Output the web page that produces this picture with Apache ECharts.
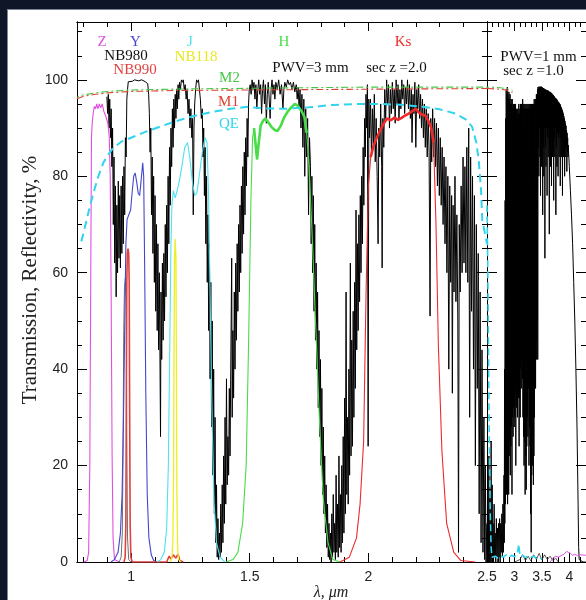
<!DOCTYPE html>
<html><head><meta charset="utf-8">
<script src="https://cdn.jsdelivr.net/npm/echarts@6/dist/echarts.min.js"></script>
<style>
html,body{margin:0;padding:0;background:#0f1627;width:586px;height:600px;overflow:hidden}
#frame{position:absolute;left:7px;top:9px;width:579px;height:591px;background:#fff;border-left:1px solid #7d8696;border-top:1px solid #7d8696;}
#chart{position:absolute;left:0;top:0;width:586px;height:600px}
</style></head><body><div id="frame"></div><div id="chart"></div>
<script>
// ---------- tick labels / tick positions ----------
const yMajor = [0,20,40,60,80,100];
const yMinor = [5,10,15,25,30,35,45,50,55,65,70,75,85,90,95,105,110];
const leftXLabels = [1,1.5,2,2.5];
const leftXMajor = [1,1.5,2,2.5];
const leftXMinor = [0.8,0.9,1.1,1.2,1.3,1.4,1.6,1.7,1.8,1.9,2.1,2.2,2.3,2.4];
const rightXLabels = [3,3.5,4];
const rightXMajor = [2.5,3,3.5,4];
const rightXMinor = [2.6,2.7,2.8,2.9,3.1,3.2,3.3,3.4,3.6,3.7,3.8,3.9,4.1,4.2,4.3];

// ---------- atmospheric transmission, PWV=3mm, sec z=2 (left panel) ----------
const atmLeft = [
[0.898,96.5],[0.901,93],[0.904,97],[0.907,90],[0.910,96],[0.913,88],[0.916,94],[0.919,82],[0.922,90],[0.925,70],[0.928,84],[0.931,62],[0.934,78],[0.937,55],[0.940,74],[0.943,60],[0.946,79],[0.949,63],[0.952,76],[0.955,61],[0.958,78],[0.961,64],[0.964,80],[0.967,66],[0.970,82],[0.973,72],[0.976,88],[0.979,84],[0.982,96],[0.985,98],[0.988,99.6],
[0.995,100],[1.005,99.7],[1.015,100],[1.030,99.8],[1.045,100],[1.060,99.6],[1.070,99.2],[1.074,97],
[1.077,93],[1.080,85],[1.083,90],[1.086,72],[1.089,84],[1.092,64],[1.095,80],[1.098,58],[1.101,76],[1.104,52],[1.107,70],[1.110,48],[1.113,66],[1.116,44],[1.119,60],[1.122,40],[1.124,26],[1.126,56],[1.129,42],[1.132,62],[1.135,46],[1.138,64],[1.141,50],[1.144,70],[1.147,55],[1.150,74],[1.153,60],[1.156,80],[1.159,66],[1.162,86],[1.165,74],[1.168,90],[1.171,82],[1.174,94],[1.177,86],[1.180,96],[1.183,90],
[1.186,97],[1.189,92],[1.192,98],[1.195,94],[1.198,99],[1.201,96],[1.204,99.5],[1.208,98],[1.212,100],[1.216,99.5],[1.220,100],[1.224,98],[1.228,99],[1.232,96],[1.236,98],[1.240,93],[1.244,96],[1.248,90],[1.252,94],[1.256,88],[1.259,92],[1.262,72],[1.265,90],[1.268,95],[1.272,98],[1.276,100],[1.280,99.5],[1.284,100],[1.288,98],[1.292,96],[1.296,92],
[1.300,94],[1.303,84],[1.306,90],[1.309,76],[1.312,86],[1.315,66],[1.318,80],[1.321,58],[1.324,72],[1.327,48],[1.330,66],[1.333,38],[1.336,58],[1.339,28],[1.342,50],[1.345,18],[1.348,40],[1.351,10],[1.354,30],[1.357,4],[1.360,16],[1.363,1],[1.366,9],[1.369,0.5],[1.372,6],[1.375,1],[1.378,12],[1.381,2],[1.384,16],[1.387,4],[1.390,22],[1.393,8],[1.396,30],[1.399,12],[1.402,38],[1.405,16],[1.408,26],[1.411,18],[1.414,36],[1.417,22],[1.420,40],[1.424,63],[1.426,30],[1.429,48],[1.432,34],[1.435,56],[1.438,40],[1.441,62],[1.444,46],[1.447,66],[1.450,52],[1.453,70],[1.456,56],[1.459,74],[1.462,60],[1.465,78],[1.468,64],[1.471,82],[1.474,68],[1.477,85],[1.480,72],[1.483,88],[1.486,78],[1.489,92],[1.492,84],[1.495,95],[1.498,98],
[1.502,99],[1.506,97],[1.510,100],[1.514,98],[1.518,99.5],[1.522,96],[1.526,99],[1.530,94],[1.534,98],[1.538,100],[1.542,97],[1.546,99],[1.550,93],[1.554,98],[1.558,100],[1.562,95],[1.566,99],[1.570,91],[1.574,97],[1.578,99.5],[1.582,96],[1.586,92],[1.590,98],[1.594,100],[1.598,97],[1.602,99],[1.606,96],[1.610,99.5],[1.616,98],[1.622,100],[1.628,97],[1.634,99],[1.640,94],[1.644,98],[1.648,99.5],[1.654,98.5],[1.660,100],[1.666,99],[1.672,99.5],[1.678,98],[1.684,99.5],[1.690,97.5],[1.696,99],[1.700,96],[1.704,98.5],[1.708,94],[1.712,98],[1.716,90],[1.720,97],[1.724,86],[1.728,96],[1.732,80],[1.736,94],[1.740,84],[1.744,92],[1.748,72],[1.752,88],
[1.756,82],[1.759,66],[1.762,80],[1.765,60],[1.768,76],[1.771,52],[1.774,70],[1.777,46],[1.780,62],[1.783,40],[1.786,56],[1.789,32],[1.792,48],[1.795,26],[1.798,42],[1.801,20],[1.804,36],[1.807,14],[1.810,28],[1.813,10],[1.816,22],[1.819,6],[1.822,16],[1.825,3],[1.828,12],[1.831,1],[1.834,8],[1.837,0.5],[1.840,6],[1.843,0],[1.846,10],[1.849,1],[1.852,14],[1.855,2],[1.858,8],[1.861,0.5],[1.864,18],[1.867,2],[1.870,12],[1.873,1],[1.876,22],[1.879,3],[1.882,14],[1.885,2],[1.888,20],[1.891,4],[1.894,26],[1.897,6],[1.900,34],[1.903,10],[1.906,56],[1.909,14],[1.912,30],[1.915,12],[1.918,40],[1.921,18],[1.924,62],[1.927,22],[1.930,46],[1.933,24],[1.936,52],[1.939,30],[1.942,58],[1.945,36],[1.948,73],[1.951,44],[1.954,66],[1.957,48],[1.960,72],[1.963,54],[1.966,76],[1.969,60],[1.972,80],[1.975,66],[1.978,86],[1.981,74],[1.984,92],[1.987,84],[1.990,97],[1.993,90],[1.996,99],[1.999,24],[2.002,96],
[2.005,88],[2.009,96],[2.013,84],[2.017,94],[2.021,86],[2.025,97],[2.029,83],[2.033,92],[2.037,80],[2.041,66],[2.044,90],[2.048,84],[2.052,95],[2.056,82],[2.058,61],[2.061,92],[2.065,86],[2.069,98],[2.073,92],[2.077,100],[2.081,95],[2.085,99],[2.089,90],[2.093,98],[2.097,93],[2.101,99.5],[2.105,94],[2.109,98],[2.113,91],[2.117,100],[2.121,95],[2.125,99],[2.129,92],[2.133,98],[2.137,94],[2.141,100],[2.145,96],[2.149,99],[2.153,93],[2.157,98.5],[2.161,95],[2.165,100],[2.169,94],[2.173,99],[2.177,92],[2.181,98],[2.184,87],[2.188,97],[2.192,93],[2.196,99.5],[2.200,86],[2.204,98],[2.208,94],[2.212,99],[2.216,92],[2.220,97],[2.224,90],[2.228,96],[2.232,88],[2.236,95],[2.240,86],[2.244,94],[2.248,84],[2.252,93],[2.256,85],[2.260,51],[2.263,92],[2.267,83],[2.271,94],[2.275,84],[2.279,92],[2.283,82],[2.287,91],[2.291,78],[2.295,90],[2.299,76],
[2.303,88],[2.307,74],[2.311,86],[2.315,70],[2.319,84],[2.323,66],[2.327,82],[2.331,60],[2.335,80],[2.339,40],[2.343,78],[2.347,58],[2.351,76],[2.354,35],[2.357,74],[2.361,56],[2.365,80],[2.369,54],[2.373,72],[2.377,50],[2.380,2],[2.383,70],[2.387,56],[2.391,78],[2.395,60],[2.399,84],[2.403,62],[2.407,82],[2.411,60],[2.415,86],[2.419,58],[2.423,90],[2.427,30],[2.431,84],[2.435,52],[2.439,80],[2.443,40],[2.447,76],[2.451,20],[2.455,70],[2.459,36],[2.463,64],[2.467,10],[2.471,56],[2.475,4],[2.479,44],[2.483,2],[2.487,30],[2.490,0.5],[2.493,20],[2.496,0],[2.499,8]
];

// ---------- atmospheric transmission, PWV=1mm, sec z=1 (right panel) ----------
const atmRight = [
[2.500,0],[2.505,4],[2.510,0],[2.515,18],[2.520,1],[2.525,10],[2.530,0],[2.535,22],[2.540,2],[2.545,8],[2.550,0],[2.555,14],[2.560,1],[2.565,6],[2.570,0],[2.575,25],[2.580,2],[2.585,10],[2.590,0],[2.595,16],[2.600,1],[2.610,8],[2.620,0],[2.630,12],[2.640,1],[2.650,6],[2.660,0],[2.670,9],[2.680,1],[2.690,7],[2.700,0],[2.710,8],[2.720,1],[2.730,9],[2.740,0],[2.750,8],[2.760,2],[2.770,10],[2.780,1],[2.790,12],[2.800,2],[2.810,18],[2.815,4],[2.820,40],[2.825,8],[2.830,75],[2.835,12],[2.840,92],[2.845,16],
[2.850,98],[2.855,14],[2.860,97],[2.865,18],[2.870,98.5],[2.875,12],[2.880,97],[2.885,20],[2.890,96],[2.895,14],[2.900,97.5],[2.905,22],[2.910,96],[2.915,25],[2.920,97],[2.925,18],[2.930,95],[2.935,24],[2.940,96],[2.945,28],[2.950,95],[2.955,14],[2.960,96],[2.965,30],[2.970,94],[2.975,26],[2.980,95],[2.985,32],[2.990,93],[2.995,28],[3.000,95],[3.005,30],[3.010,94],[3.015,35],[3.020,95],[3.025,20],[3.030,93],[3.035,32],[3.040,94],[3.045,36],[3.050,92],[3.055,30],[3.060,94],[3.065,38],[3.070,93],[3.075,34],[3.080,95],[3.085,24],[3.090,93],[3.095,34],[3.100,94],[3.105,30],[3.110,95],[3.115,40],[3.120,94],[3.125,36],[3.130,95],[3.135,42],[3.140,94],[3.145,38],[3.150,96],[3.155,30],[3.160,94],[3.165,26],[3.170,95],[3.175,20],[3.180,94],[3.185,25],[3.190,95],[3.195,14],[3.200,94],[3.205,22],[3.210,95],[3.215,15],[3.220,94],[3.225,24],[3.230,95],[3.235,30],[3.240,94],[3.245,26],[3.250,95],[3.255,36],[3.260,94],[3.265,20],[3.270,95],[3.275,28],[3.280,94],[3.285,24],[3.290,95],[3.295,10],[3.300,94],[3.305,2],[3.310,95],[3.315,18],[3.320,94],[3.325,20],[3.330,95],[3.335,26],[3.340,94],[3.345,16],[3.350,95],[3.355,22],[3.360,96],[3.365,30],[3.370,95],[3.375,40],[3.380,96],[3.385,36],[3.390,96],[3.395,46],[3.400,97],[3.405,42],[3.410,97],[3.415,50],[3.420,98],[3.425,42],
[3.430,98.5],[3.435,86],[3.440,98.4],[3.445,80],[3.450,98.6],[3.455,90],[3.460,98.5],[3.465,84],[3.470,98.6],[3.475,76],[3.480,98.5],[3.485,88],[3.490,98.6],[3.495,82],[3.500,98.5],[3.505,90],[3.510,98.4],[3.515,72],[3.520,98.3],[3.525,86],[3.530,98.3],[3.535,80],[3.540,98.2],[3.545,90],[3.550,98],[3.555,63],[3.560,98],[3.565,86],[3.570,98],[3.575,82],[3.580,97.9],[3.585,90],[3.590,97.8],[3.595,76],[3.600,97.8],[3.605,88],[3.610,97.8],[3.615,84],[3.620,97.7],[3.625,90],[3.630,97.6],[3.635,68],[3.640,97.5],[3.645,86],[3.650,97.5],[3.655,82],[3.660,97.4],[3.665,90],[3.670,97.3],[3.675,78],[3.680,97.2],[3.685,88],[3.690,97],[3.695,84],[3.700,96.9],[3.705,90],[3.710,96.8],[3.715,75],[3.720,96.6],[3.725,88],[3.730,96.5],[3.735,84],[3.740,96.3],[3.745,90],[3.750,96.2],[3.755,72],[3.760,96.1],[3.765,86],[3.770,96],[3.775,82],[3.780,95.8],[3.785,89],[3.790,95.6],[3.795,80],[3.800,95.4],[3.805,88],[3.810,95.3],[3.815,84],[3.820,95.1],[3.825,89],[3.830,95],[3.835,78],[3.840,94.7],[3.845,88],[3.850,94.4],[3.855,84],[3.860,94.1],[3.865,88],[3.870,93.8],[3.875,76],[3.880,93.4],[3.885,87],[3.890,93],[3.895,84],[3.900,92.5],[3.905,86],[3.910,92],[3.915,80],[3.920,91.5],[3.925,86],[3.930,91],[3.935,84],[3.940,90.5],[3.945,86],[3.950,89.5],[3.955,81],[3.960,89],[3.965,85],[3.970,88],[3.975,84],[3.980,86.5],
[4.000,82],[4.020,77],[4.040,72],[4.060,66],[4.080,58],[4.100,50],[4.120,40],[4.140,28],[4.160,12],[4.170,3],[4.180,0.5],[4.250,0],[4.300,0]
];

// ---------- filters ----------
const filterZ = [[0.800,0],[0.815,0.3],[0.821,2],[0.826,20],[0.830,60],[0.833,88],[0.836,91],[0.840,93],[0.845,94.5],[0.850,94],[0.855,95],[0.860,94],[0.866,95],[0.872,94.2],[0.878,95],[0.885,93.5],[0.893,92.5],[0.902,91],[0.908,88],[0.912,80],[0.916,55],[0.920,22],[0.924,5],[0.930,0.5],[0.950,0]];
const filterY = [[0.915,0],[0.930,0.5],[0.945,2],[0.955,6],[0.962,14],[0.968,30],[0.974,52],[0.978,66],[0.983,71],[0.990,72],[0.998,73],[1.005,77],[1.011,80],[1.017,80.7],[1.023,79],[1.030,76.5],[1.036,76],[1.042,79],[1.049,82.8],[1.053,80],[1.057,62],[1.062,35],[1.068,14],[1.075,5],[1.085,1.5],[1.095,0.3],[1.110,0]];
const filterNB980 = [[0.950,0],[0.958,1],[0.963,6],[0.966,22],[0.969,48],[0.972,57],[0.976,59],[0.979,54],[0.982,26],[0.985,5],[0.990,0.5],[1.000,0]];
const filterNB990 = [[0.970,0],[0.975,1],[0.978,8],[0.980,35],[0.982,58],[0.984,64],[0.987,65],[0.990,64],[0.992,58],[0.994,30],[0.996,8],[0.999,1],[1.005,0],[1.150,0],[1.160,1.2],[1.168,0.6],[1.178,1.5],[1.188,0.8],[1.198,1.6],[1.205,0.3],[1.220,0]];
const filterNB118 = [[1.165,0],[1.172,1],[1.176,4],[1.179,18],[1.181,45],[1.183,63],[1.186,67],[1.189,63],[1.191,40],[1.193,14],[1.196,3],[1.200,0.5],[1.210,0]];
const filterJ = [[1.110,0],[1.125,0.5],[1.140,2],[1.150,7],[1.157,20],[1.163,45],[1.168,66],[1.172,74],[1.178,77],[1.186,75.5],[1.194,77],[1.203,79],[1.214,82],[1.226,86],[1.238,87],[1.247,84],[1.258,79],[1.268,76],[1.277,76.5],[1.287,80],[1.300,85],[1.312,88],[1.320,87],[1.327,75],[1.334,52],[1.342,28],[1.350,12],[1.360,4],[1.375,1],[1.395,0]];
const filterH = [[1.400,0],[1.430,0.5],[1.450,2],[1.470,8],[1.485,20],[1.495,45],[1.505,75],[1.512,88],[1.518,90],[1.524,87],[1.531,83.5],[1.538,87],[1.546,90.5],[1.556,91.5],[1.566,92],[1.578,91.2],[1.592,90.2],[1.605,89.6],[1.617,89.4],[1.630,90.4],[1.645,92.2],[1.660,93.4],[1.675,94.3],[1.690,95],[1.703,94.6],[1.717,93.6],[1.730,92.4],[1.740,89],[1.750,82],[1.763,68],[1.778,49],[1.795,28],[1.810,13],[1.830,4],[1.850,0.5],[1.880,0]];
const filterKs = [[1.880,0],[1.920,1],[1.950,5],[1.965,12],[1.980,25],[1.990,55],[2.000,78],[2.010,84],[2.020,86],[2.035,88],[2.050,89.5],[2.065,91],[2.080,92],[2.095,91.6],[2.110,92.2],[2.125,91.7],[2.140,92.1],[2.155,92.6],[2.170,93],[2.185,93.5],[2.200,94],[2.213,93.2],[2.226,92.8],[2.240,92.6],[2.253,91.5],[2.265,90],[2.275,87],[2.285,70],[2.295,45],[2.310,23],[2.330,8],[2.360,2],[2.390,0.3],[2.450,0]];

// ---------- mirrors and detector ----------
const m2Left = [[0.772,96.4],[0.800,96.9],[0.850,97.3],[0.900,97.6],[1.000,97.9],[1.100,98.0],[1.200,98.1],[1.400,98.2],[1.600,98.3],[1.800,98.4],[2.000,98.5],[2.200,98.5],[2.500,98.5]];
const m1Left = [[0.772,96.1],[0.800,96.6],[0.850,97.0],[0.900,97.3],[1.000,97.6],[1.200,97.8],[1.500,97.9],[1.800,98.0],[2.100,98.1],[2.500,98.2]];
const m2Right = [[2.500,98.5],[2.700,98.4],[2.850,98.2],[2.900,98.0],[2.930,97.6],[2.965,97.8]];
const m1Right = [[2.500,98.2],[2.700,98.1],[2.850,97.9],[2.900,97.6],[2.930,97.2],[2.965,97.4]];
const qeLeft = [[0.790,66.5],[0.800,68.3],[0.820,72.5],[0.841,76.5],[0.862,80],[0.883,82.8],[0.905,84.6],[0.925,85.9],[0.960,87.2],[1.010,88.2],[1.060,89.2],[1.122,90.3],[1.180,91.3],[1.235,92.1],[1.290,92.8],[1.346,93.4],[1.420,94],[1.488,94.4],[1.550,94.1],[1.650,94],[1.750,94.3],[1.850,94.8],[1.950,95],[2.050,95],[2.150,94.8],[2.230,94.4],[2.300,93.9],[2.367,93],[2.410,91.8],[2.437,90.3],[2.455,87],[2.465,83.4],[2.475,77],[2.480,71],[2.500,66]];
const qeRight = [[2.500,74],[2.515,60],[2.530,40],[2.545,22],[2.560,10],[2.575,3],[2.590,1],[2.650,1.2],[2.700,0.8],[2.750,1.3],[2.800,1],[2.850,1.5],[2.900,1],[2.950,1.4],[3.000,1.1],[3.050,1.6],[3.080,3.7],[3.100,1.2],[3.150,1.4],[3.200,0.9],[3.250,1.3],[3.300,1],[3.350,1.2],[3.400,0.8],[3.450,1],[3.500,0.6]];
const leakRight = [[3.000,0],[3.100,0.5],[3.150,1.5],[3.200,0.3],[3.250,1.2],[3.300,0.2],[3.350,1.5],[3.400,0.5],[3.450,1.8],[3.500,0.4],[3.550,1.5],[3.600,0.5],[3.650,1.2],[3.700,0.3],[3.750,0.8],[3.800,0]];
const zLeakRight = [[3.650,0],[3.700,0.8],[3.750,1.2],[3.800,1.0],[3.850,1.3],[3.900,1.6],[3.950,2.2],[3.980,2.4],[4.020,1.8],[4.060,1.4],[4.100,1.6],[4.150,1.3],[4.200,1.5],[4.300,1.4]];

// ---------- colours ----------
const C = {atm:'#000', Z:'#e050e0', Y:'#4646cc', NB980:'#707070', NB990:'#e04040', NB118:'#eeee22', J:'#50e0ee', H:'#48dd48', Ks:'#ee2a2a', M1:'#dd4030', M2:'#44c844', QE:'#30d4ec'};

const chart = echarts.init(document.getElementById('chart'), null, {renderer:'canvas'});
const axLine = {show:true, onZero:false, lineStyle:{color:'#000', width:1}};
const lblStyle = {color:'#222', fontFamily:'Liberation Sans, Arial, sans-serif', fontSize:14};
function mkX(grid, pos, min, max, ticks, len, labels){
  return {type:'value', gridIndex:grid, position:pos, min:min, max:max,
    axisLine:axLine,
    axisTick:{show:true, inside:true, length:len, customValues:ticks, lineStyle:{color:'#000', width:1}},
    axisLabel: labels ? Object.assign({show:true, customValues:labels, margin:8, showMinLabel:true, showMaxLabel:true}, lblStyle) : {show:false},
    splitLine:{show:false}};
}
function mkY(grid, pos, ticks, len, labels){
  return {type:'value', gridIndex:grid, position:pos, min:0, max:112,
    axisLine:axLine,
    axisTick:{show:true, inside:true, length:len, customValues:ticks, lineStyle:{color:'#000', width:1}},
    axisLabel: labels ? Object.assign({show:true, customValues:labels, margin:9}, lblStyle) : {show:false},
    splitLine:{show:false}};
}
const LMIN = 0.772, LMAX = 2.5, RMIN = 2.5, RMAX = 4.304;
const xAxes = [
  mkX(0,'bottom',LMIN,LMAX,leftXMajor,9,leftXLabels),
  mkX(0,'bottom',LMIN,LMAX,leftXMinor,5,null),
  mkX(0,'top',LMIN,LMAX,leftXMajor,9,null),
  mkX(0,'top',LMIN,LMAX,leftXMinor,5,null),
  mkX(1,'bottom',RMIN,RMAX,rightXMajor,9,rightXLabels),
  mkX(1,'bottom',RMIN,RMAX,rightXMinor,5,null),
  mkX(1,'top',RMIN,RMAX,rightXMajor,9,null),
  mkX(1,'top',RMIN,RMAX,rightXMinor,5,null)
];
const yAxes = [
  mkY(0,'left',yMajor,10,yMajor),
  mkY(0,'left',yMinor,5,null),
  mkY(0,'right',yMajor,10,null),
  mkY(0,'right',yMinor,5,null),
  mkY(1,'left',yMajor,10,null),
  mkY(1,'left',yMinor,5,null),
  mkY(1,'right',yMajor,10,null),
  mkY(1,'right',yMinor,5,null)
];
function line(name, data, color, width, panel, extra){
  return Object.assign({type:'line', name:name, data:data, xAxisIndex: panel===0?0:4, yAxisIndex: panel===0?0:4,
    showSymbol:false, symbol:'none', animation:false, clip:true, silent:true,
    lineStyle:{color:color, width:width}}, extra||{});
}
const series = [
  line('atmL', atmLeft, C.atm, 1, 0),
  line('atmR', atmRight, C.atm, 1, 1),
  line('NB980', filterNB980, C.NB980, 1, 0),
  line('Z', filterZ, C.Z, 1.1, 0),
  line('Y', filterY, C.Y, 1.1, 0),
  line('NB990', filterNB990, C.NB990, 1.6, 0),
  line('NB118', filterNB118, C.NB118, 1.3, 0),
  line('J', filterJ, C.J, 1.1, 0),
  line('H', filterH, C.H, 1.1, 0),
  line('Htop', filterH.filter(p => p[1] > 83 && p[0] > 1.515), C.H, 2.6, 0),
  line('Ks', filterKs, C.Ks, 1.1, 0),
  line('Kstop', filterKs.filter(p => p[1] > 83), C.Ks, 2.6, 0),
  line('leakR', leakRight, '#333', 0.8, 1),
  line('zleakR', zLeakRight, C.Z, 1, 1),
  line('QE', qeLeft, C.QE, 2, 0, {lineStyle:{color:C.QE, width:2, type:[8,5]}}),
  line('QEr', qeRight, C.QE, 1.6, 1, {lineStyle:{color:C.QE, width:1.6, type:[7,4]}}),
  line('M1', m1Left, C.M1, 1, 0, {lineStyle:{color:C.M1, width:1.1, type:[7,3,2,3]}}),
  line('M2', m2Left, C.M2, 1, 0, {lineStyle:{color:C.M2, width:1.1, type:[7,3,2,3], dashOffset:5}}),
  line('M1r', m1Right, C.M1, 1, 1, {lineStyle:{color:C.M1, width:1.1, type:[7,3,2,3]}}),
  line('M2r', m2Right, C.M2, 1, 1, {lineStyle:{color:C.M2, width:1.1, type:[7,3,2,3], dashOffset:5}})
];
const serif = 'Liberation Serif, Times New Roman, serif';
function txt(s, x, y, color, size){
  return {type:'text', x:x, y:y, silent:true, z:100,
    style:{text:s, fill:color, font:(size||15)+'px '+serif, textAlign:'center', textVerticalAlign:'middle'}};
}
const graphics = [
  txt('Z',102,42,C.Z), txt('Y',135.5,42,C.Y), txt('J',190,42,C.J), txt('H',284,42,C.H), txt('Ks',403,42,C.Ks),
  txt('NB980',126,56,'#111'), txt('NB990',135,70,C.NB990), txt('NB118',196,57,'#e8e820'),
  txt('M2',229.5,78.5,C.M2), txt('M1',228.5,102,C.M1), txt('QE',229,124,C.QE),
  txt('PWV=3 mm',310.5,68,'#111'), txt('sec z =2.0',396.5,68,'#111'),
  txt('PWV=1 mm',538.5,57,'#111'), txt('sec z =1.0',533.5,71,'#111'),
  {type:'text', x:30, y:280, rotation:Math.PI/2, silent:true,
    style:{text:'Transmission, Reflectivity, %', fill:'#222', font:'21px '+serif, textAlign:'center', textVerticalAlign:'middle'}},
  {type:'text', x:331, y:593, silent:true,
    style:{text:'λ, μm', fill:'#222', font:'italic 16px '+serif, textAlign:'center', textVerticalAlign:'middle'}}
];
chart.setOption({
  backgroundColor:'transparent',
  animation:false,
  grid:[{left:77, top:22, width:410, height:540}, {left:487, top:22, width:101, height:540}],
  xAxis:xAxes, yAxis:yAxes, series:series, graphic:graphics
});
</script></body></html>
